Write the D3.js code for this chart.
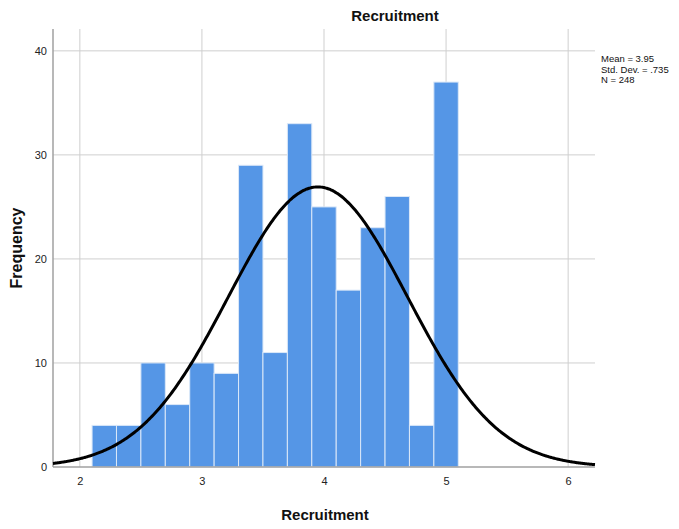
<!DOCTYPE html>
<html>
<head>
<meta charset="utf-8">
<script src="https://cdn.jsdelivr.net/npm/d3@7/dist/d3.min.js"></script>
<style>
  html, body { margin: 0; padding: 0; background: #fff; }
  svg { display: block; font-family: "Liberation Sans", Arial, sans-serif; }
</style>
</head>
<body>
<svg id="chart" width="679" height="529"></svg>
<script>
// ---- data ----
const binStarts = [2.1, 2.3, 2.5, 2.7, 2.9, 3.1, 3.3, 3.5, 3.7, 3.9, 4.1, 4.3, 4.5, 4.7, 4.9];
const binWidth = 0.2;
const frequencies = [4, 4, 10, 6, 10, 9, 29, 11, 33, 25, 17, 23, 26, 4, 37];
const xTicks = [2, 3, 4, 5, 6];
const yTicks = [0, 10, 20, 30, 40];
const stats = { mean: 3.95, sd: 0.735, n: 248 };
const legendLines = ["Mean = 3.95", "Std. Dev. = .735", "N = 248"];
const titleText = "Recruitment";
const xLabel = "Recruitment";
const yLabel = "Frequency";

// ---- layout ----
const W = 679, H = 529;
const m = { left: 53, right: 84, top: 29, bottom: 62 };
const pw = W - m.left - m.right, ph = H - m.top - m.bottom;

const svg = d3.select("#chart");
const x = d3.scaleLinear().domain([1.78, 6.22]).range([m.left, m.left + pw]);
const y = d3.scaleLinear().domain([0, 42.1]).range([m.top + ph, m.top]);

// grid
const grid = svg.append("g");
grid.selectAll("line.vg").data(xTicks).join("line")
  .attr("x1", d => x(d)).attr("x2", d => x(d))
  .attr("y1", m.top).attr("y2", m.top + ph)
  .attr("stroke", "#cfcfcf").attr("stroke-width", 1);
grid.selectAll("line.hg").data(yTicks.filter(d => d > 0)).join("line")
  .attr("x1", m.left).attr("x2", m.left + pw)
  .attr("y1", d => y(d)).attr("y2", d => y(d))
  .attr("stroke", "#cfcfcf").attr("stroke-width", 1);

// bars
svg.append("g").selectAll("rect").data(binStarts).join("rect")
  .attr("x", d => x(d))
  .attr("width", d => x(d + binWidth) - x(d))
  .attr("y", (d, i) => y(frequencies[i]))
  .attr("height", (d, i) => y(0) - y(frequencies[i]))
  .attr("fill", "#5596e6")
  .attr("stroke", "#dbe8f8")
  .attr("stroke-width", 1);

// axes
const yAxis = d3.axisLeft(y).tickValues(yTicks).tickFormat(d3.format("d")).tickSize(0).tickPadding(6);
const gy = svg.append("g").attr("transform", `translate(${m.left},0)`).call(yAxis);
gy.select(".domain").remove();
gy.selectAll("text").attr("font-size", 11).attr("fill", "#222")
  .attr("font-family", "Liberation Sans, Arial, sans-serif").attr("dy", "0.6em")
  .attr("y", -3);

const xAxis = d3.axisBottom(x).tickValues(xTicks).tickFormat(d3.format("d")).tickSize(0).tickPadding(10);
const gx = svg.append("g").attr("transform", `translate(0,${m.top + ph})`).call(xAxis);
gx.select(".domain").remove();
gx.selectAll("text").attr("font-size", 11).attr("fill", "#222")
  .attr("font-family", "Liberation Sans, Arial, sans-serif");

// axis lines
svg.append("line").attr("x1", m.left).attr("x2", m.left)
  .attr("y1", m.top).attr("y2", m.top + ph)
  .attr("stroke", "#a0a0a0").attr("stroke-width", 1.5);
svg.append("line").attr("x1", m.left).attr("x2", m.left + pw)
  .attr("y1", m.top + ph).attr("y2", m.top + ph)
  .attr("stroke", "#a0a0a0").attr("stroke-width", 1.5);

// normal curve
const scale = stats.n * binWidth;
const pdf = v => scale * Math.exp(-0.5 * Math.pow((v - stats.mean) / stats.sd, 2)) / (stats.sd * Math.sqrt(2 * Math.PI));
const xs = d3.range(0, 401).map(i => x.domain()[0] + (x.domain()[1] - x.domain()[0]) * i / 400);
svg.append("path")
  .datum(xs)
  .attr("d", d3.line().x(d => x(d)).y(d => y(pdf(d))).curve(d3.curveBasis))
  .attr("fill", "none").attr("stroke", "#000").attr("stroke-width", 3);

// titles
svg.append("text").attr("x", 395).attr("y", 21).attr("text-anchor", "middle")
  .attr("font-size", 15).attr("font-weight", "bold").attr("fill", "#111").text(titleText);
svg.append("text").attr("x", 325).attr("y", 520).attr("text-anchor", "middle")
  .attr("font-size", 15).attr("font-weight", "bold").attr("fill", "#111").text(xLabel);
svg.append("text").attr("transform", "translate(22,248) rotate(-90)").attr("text-anchor", "middle")
  .attr("font-size", 16).attr("font-weight", "bold").attr("fill", "#111").text(yLabel);

// legend
svg.append("g").selectAll("text").data(legendLines).join("text")
  .attr("x", 601).attr("y", (d, i) => 62 + i * 10.5)
  .attr("font-size", 9.5).attr("fill", "#111").text(d => d);
</script>
</body>
</html>
